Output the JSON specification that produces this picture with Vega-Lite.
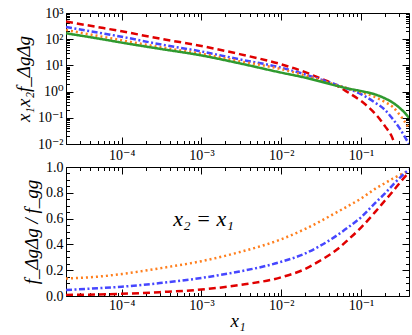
{
  "$schema": "https://vega.github.io/schema/vega-lite/v6.json",
  "padding": {"left": 13, "top": 5, "right": 5, "bottom": 2},
  "spacing": 23,
  "bounds": "flush",
  "datasets": {
    "top": [
      {"s": "red", "x": 0.00002, "y": 470}, {"s": "red", "x": 0.00005, "y": 290}, {"s": "red", "x": 0.0001, "y": 200}, {"s": "red", "x": 0.0003, "y": 105}, {"s": "red", "x": 0.001, "y": 55}, {"s": "red", "x": 0.003, "y": 27}, {"s": "red", "x": 0.01, "y": 11}, {"s": "red", "x": 0.02, "y": 5.5}, {"s": "red", "x": 0.03, "y": 3.3}, {"s": "red", "x": 0.05, "y": 1.7}, {"s": "red", "x": 0.07, "y": 0.9}, {"s": "red", "x": 0.1, "y": 0.44}, {"s": "red", "x": 0.15, "y": 0.145}, {"s": "red", "x": 0.2, "y": 0.048}, {"s": "red", "x": 0.25, "y": 0.016}, {"s": "red", "x": 0.265, "y": 0.01},
      {"s": "blue", "x": 0.00002, "y": 293}, {"s": "blue", "x": 0.00005, "y": 180}, {"s": "blue", "x": 0.0001, "y": 124}, {"s": "blue", "x": 0.0003, "y": 64}, {"s": "blue", "x": 0.001, "y": 34}, {"s": "blue", "x": 0.003, "y": 17}, {"s": "blue", "x": 0.01, "y": 8.2}, {"s": "blue", "x": 0.02, "y": 4.5}, {"s": "blue", "x": 0.03, "y": 3.0}, {"s": "blue", "x": 0.05, "y": 1.8}, {"s": "blue", "x": 0.07, "y": 1.25}, {"s": "blue", "x": 0.1, "y": 0.8}, {"s": "blue", "x": 0.15, "y": 0.38}, {"s": "blue", "x": 0.2, "y": 0.2}, {"s": "blue", "x": 0.25, "y": 0.09}, {"s": "blue", "x": 0.3, "y": 0.043}, {"s": "blue", "x": 0.35, "y": 0.02}, {"s": "blue", "x": 0.4, "y": 0.01},
      {"s": "orange", "x": 0.00002, "y": 224}, {"s": "orange", "x": 0.00005, "y": 134}, {"s": "orange", "x": 0.0001, "y": 91}, {"s": "orange", "x": 0.0003, "y": 50}, {"s": "orange", "x": 0.001, "y": 28}, {"s": "orange", "x": 0.003, "y": 14.5}, {"s": "orange", "x": 0.01, "y": 7.2}, {"s": "orange", "x": 0.02, "y": 4.1}, {"s": "orange", "x": 0.03, "y": 2.8}, {"s": "orange", "x": 0.05, "y": 1.75}, {"s": "orange", "x": 0.07, "y": 1.3}, {"s": "orange", "x": 0.1, "y": 0.95}, {"s": "orange", "x": 0.15, "y": 0.62}, {"s": "orange", "x": 0.2, "y": 0.4}, {"s": "orange", "x": 0.25, "y": 0.26}, {"s": "orange", "x": 0.3, "y": 0.14}, {"s": "orange", "x": 0.35, "y": 0.075}, {"s": "orange", "x": 0.4, "y": 0.038},
      {"s": "green", "x": 0.00002, "y": 168}, {"s": "green", "x": 0.00005, "y": 107}, {"s": "green", "x": 0.0001, "y": 74}, {"s": "green", "x": 0.0003, "y": 43}, {"s": "green", "x": 0.001, "y": 24}, {"s": "green", "x": 0.003, "y": 12}, {"s": "green", "x": 0.01, "y": 5.3}, {"s": "green", "x": 0.02, "y": 3.4}, {"s": "green", "x": 0.03, "y": 2.5}, {"s": "green", "x": 0.05, "y": 1.65}, {"s": "green", "x": 0.07, "y": 1.3}, {"s": "green", "x": 0.1, "y": 1.05}, {"s": "green", "x": 0.15, "y": 0.78}, {"s": "green", "x": 0.2, "y": 0.55}, {"s": "green", "x": 0.25, "y": 0.38}, {"s": "green", "x": 0.3, "y": 0.25}, {"s": "green", "x": 0.35, "y": 0.16}, {"s": "green", "x": 0.4, "y": 0.1}
    ],
    "bottom": [
      {"s": "orange", "x": 0.00002, "y": 0.135}, {"s": "orange", "x": 0.00005, "y": 0.15}, {"s": "orange", "x": 0.0001, "y": 0.17}, {"s": "orange", "x": 0.0003, "y": 0.215}, {"s": "orange", "x": 0.001, "y": 0.27}, {"s": "orange", "x": 0.003, "y": 0.34}, {"s": "orange", "x": 0.01, "y": 0.44}, {"s": "orange", "x": 0.02, "y": 0.52}, {"s": "orange", "x": 0.03, "y": 0.575}, {"s": "orange", "x": 0.05, "y": 0.65}, {"s": "orange", "x": 0.07, "y": 0.7}, {"s": "orange", "x": 0.1, "y": 0.755}, {"s": "orange", "x": 0.15, "y": 0.83}, {"s": "orange", "x": 0.2, "y": 0.875}, {"s": "orange", "x": 0.25, "y": 0.91}, {"s": "orange", "x": 0.3, "y": 0.935}, {"s": "orange", "x": 0.35, "y": 0.955}, {"s": "orange", "x": 0.4, "y": 0.97},
      {"s": "blue", "x": 0.00002, "y": 0.047}, {"s": "blue", "x": 0.00005, "y": 0.06}, {"s": "blue", "x": 0.0001, "y": 0.072}, {"s": "blue", "x": 0.0003, "y": 0.1}, {"s": "blue", "x": 0.001, "y": 0.14}, {"s": "blue", "x": 0.003, "y": 0.19}, {"s": "blue", "x": 0.01, "y": 0.265}, {"s": "blue", "x": 0.02, "y": 0.33}, {"s": "blue", "x": 0.03, "y": 0.385}, {"s": "blue", "x": 0.05, "y": 0.47}, {"s": "blue", "x": 0.07, "y": 0.535}, {"s": "blue", "x": 0.1, "y": 0.61}, {"s": "blue", "x": 0.15, "y": 0.72}, {"s": "blue", "x": 0.2, "y": 0.795}, {"s": "blue", "x": 0.25, "y": 0.86}, {"s": "blue", "x": 0.3, "y": 0.91}, {"s": "blue", "x": 0.35, "y": 0.95}, {"s": "blue", "x": 0.4, "y": 0.98},
      {"s": "red", "x": 0.00002, "y": 0.008}, {"s": "red", "x": 0.00005, "y": 0.012}, {"s": "red", "x": 0.0001, "y": 0.017}, {"s": "red", "x": 0.0003, "y": 0.03}, {"s": "red", "x": 0.001, "y": 0.05}, {"s": "red", "x": 0.003, "y": 0.085}, {"s": "red", "x": 0.01, "y": 0.145}, {"s": "red", "x": 0.02, "y": 0.21}, {"s": "red", "x": 0.03, "y": 0.27}, {"s": "red", "x": 0.05, "y": 0.36}, {"s": "red", "x": 0.07, "y": 0.44}, {"s": "red", "x": 0.1, "y": 0.53}, {"s": "red", "x": 0.15, "y": 0.65}, {"s": "red", "x": 0.2, "y": 0.74}, {"s": "red", "x": 0.25, "y": 0.81}, {"s": "red", "x": 0.3, "y": 0.87}, {"s": "red", "x": 0.35, "y": 0.92}, {"s": "red", "x": 0.4, "y": 0.96}
    ],
    "note": [{"x": 0.00106, "y": 0.6, "label": "x₂ = x₁"}]
  },
  "vconcat": [
    {
      "width": 343,
      "height": 131,
      "data": {"name": "top"},
      "layer": [
        {
          "mark": {"type": "line", "strokeWidth": 2.5, "interpolate": "monotone", "clip": true},
          "encoding": {
            "x": {"field": "x", "type": "quantitative", "scale": {"type": "log", "domain": [0.00002, 0.4]},
              "axis": {"orient": "bottom", "values": [0.0001, 0.001, 0.01, 0.1], "tickSize": -7, "labelPadding": 11, "title": null,
                "labelExpr": "'10' + (round(log(datum.value)/LN10) < 0 ? '⁻' : '') + substring('⁰¹²³⁴⁵⁶⁷⁸⁹', abs(round(log(datum.value)/LN10)), abs(round(log(datum.value)/LN10)) + 1)"}},
            "y": {"field": "y", "type": "quantitative", "scale": {"type": "log", "domain": [0.01, 1000]},
              "axis": {"orient": "left", "values": [0.01, 0.1, 1, 10, 100, 1000], "tickSize": -7, "labelPadding": 10, "title": "x₁x₂f_ΔgΔg",
                "labelExpr": "'10' + (round(log(datum.value)/LN10) < 0 ? '⁻' : '') + substring('⁰¹²³⁴⁵⁶⁷⁸⁹', abs(round(log(datum.value)/LN10)), abs(round(log(datum.value)/LN10)) + 1)"}},
            "color": {"field": "s", "type": "nominal", "legend": null, "scale": {"domain": ["red", "blue", "orange", "green"], "range": ["#e00000", "#4646ff", "#ff7f1e", "#2f9a2f"]}},
            "strokeDash": {"field": "s", "type": "nominal", "legend": null, "scale": {"domain": ["red", "blue", "orange", "green"], "range": [[7, 4], [6, 2.5, 2, 2.5], [2, 3], [1, 0]]}}
          }
        },
        {
          "mark": {"type": "line", "strokeOpacity": 0},
          "encoding": {
            "x": {"field": "x", "type": "quantitative", "scale": {"type": "log", "domain": [0.00002, 0.4]},
              "axis": {"orient": "top", "values": [0.0001, 0.001, 0.01, 0.1], "tickSize": -7, "labels": false, "title": null}},
            "y": {"field": "y", "type": "quantitative", "scale": {"type": "log", "domain": [0.01, 1000]},
              "axis": {"orient": "right", "values": [0.01, 0.1, 1, 10, 100, 1000], "tickSize": -7, "labels": false, "title": null}},
            "detail": {"field": "s"}
          }
        },
        {
          "mark": {"type": "line", "strokeOpacity": 0},
          "encoding": {
            "x": {"field": "x", "type": "quantitative", "scale": {"type": "log", "domain": [0.00002, 0.4]},
              "axis": {"orient": "bottom", "values": [0.00002, 0.00003, 0.00004, 0.00005, 0.00006, 0.00007, 0.00008, 0.00009, 0.0002, 0.0003, 0.0004, 0.0005, 0.0006, 0.0007, 0.0008, 0.0009, 0.002, 0.003, 0.004, 0.005, 0.006, 0.007, 0.008, 0.009, 0.02, 0.03, 0.04, 0.05, 0.06, 0.07, 0.08, 0.09, 0.2, 0.3], "tickSize": -3.5, "labels": false, "title": null}},
            "y": {"field": "y", "type": "quantitative", "scale": {"type": "log", "domain": [0.01, 1000]},
              "axis": {"orient": "left", "values": [0.02, 0.03, 0.04, 0.05, 0.06, 0.07, 0.08, 0.09, 0.2, 0.3, 0.4, 0.5, 0.6, 0.7, 0.8, 0.9, 2, 3, 4, 5, 6, 7, 8, 9, 20, 30, 40, 50, 60, 70, 80, 90, 200, 300, 400, 500, 600, 700, 800, 900], "tickSize": -3.5, "labels": false, "title": null}},
            "detail": {"field": "s"}
          }
        },
        {
          "mark": {"type": "line", "strokeOpacity": 0},
          "encoding": {
            "x": {"field": "x", "type": "quantitative", "scale": {"type": "log", "domain": [0.00002, 0.4]},
              "axis": {"orient": "top", "values": [0.00002, 0.00003, 0.00004, 0.00005, 0.00006, 0.00007, 0.00008, 0.00009, 0.0002, 0.0003, 0.0004, 0.0005, 0.0006, 0.0007, 0.0008, 0.0009, 0.002, 0.003, 0.004, 0.005, 0.006, 0.007, 0.008, 0.009, 0.02, 0.03, 0.04, 0.05, 0.06, 0.07, 0.08, 0.09, 0.2, 0.3], "tickSize": -3.5, "labels": false, "title": null}},
            "y": {"field": "y", "type": "quantitative", "scale": {"type": "log", "domain": [0.01, 1000]},
              "axis": {"orient": "right", "values": [0.02, 0.03, 0.04, 0.05, 0.06, 0.07, 0.08, 0.09, 0.2, 0.3, 0.4, 0.5, 0.6, 0.7, 0.8, 0.9, 2, 3, 4, 5, 6, 7, 8, 9, 20, 30, 40, 50, 60, 70, 80, 90, 200, 300, 400, 500, 600, 700, 800, 900], "tickSize": -3.5, "labels": false, "title": null}},
            "detail": {"field": "s"}
          }
        }
      ],
      "resolve": {"axis": {"x": "independent", "y": "independent"}}
    },
    {
      "width": 343,
      "height": 129,
      "layer": [
        {
          "data": {"name": "bottom"},
          "mark": {"type": "line", "strokeWidth": 2.5, "interpolate": "monotone", "clip": true},
          "encoding": {
            "x": {"field": "x", "type": "quantitative", "scale": {"type": "log", "domain": [0.00002, 0.4]},
              "axis": {"orient": "bottom", "values": [0.0001, 0.001, 0.01, 0.1], "tickSize": -7, "labelPadding": 9, "titlePadding": -1, "title": "x₁",
                "labelExpr": "'10' + (round(log(datum.value)/LN10) < 0 ? '⁻' : '') + substring('⁰¹²³⁴⁵⁶⁷⁸⁹', abs(round(log(datum.value)/LN10)), abs(round(log(datum.value)/LN10)) + 1)"}},
            "y": {"field": "y", "type": "quantitative", "scale": {"domain": [0, 1]},
              "axis": {"orient": "left", "values": [0, 0.2, 0.4, 0.6, 0.8, 1], "format": ".1f", "tickSize": -7, "labelPadding": 10, "title": "f_ΔgΔg / f_gg"}},
            "color": {"field": "s", "type": "nominal", "legend": null, "scale": {"domain": ["red", "blue", "orange", "green"], "range": ["#e00000", "#4646ff", "#ff7f1e", "#2f9a2f"]}},
            "strokeDash": {"field": "s", "type": "nominal", "legend": null, "scale": {"domain": ["red", "blue", "orange", "green"], "range": [[7, 4], [6, 2.5, 2, 2.5], [2, 3], [1, 0]]}}
          }
        },
        {
          "data": {"name": "bottom"},
          "mark": {"type": "line", "strokeOpacity": 0},
          "encoding": {
            "x": {"field": "x", "type": "quantitative", "scale": {"type": "log", "domain": [0.00002, 0.4]},
              "axis": {"orient": "top", "values": [0.0001, 0.001, 0.01, 0.1], "tickSize": -7, "labels": false, "title": null}},
            "y": {"field": "y", "type": "quantitative", "scale": {"domain": [0, 1]},
              "axis": {"orient": "right", "values": [0, 0.2, 0.4, 0.6, 0.8, 1], "tickSize": -7, "labels": false, "title": null}},
            "detail": {"field": "s"}
          }
        },
        {
          "data": {"name": "bottom"},
          "mark": {"type": "line", "strokeOpacity": 0},
          "encoding": {
            "x": {"field": "x", "type": "quantitative", "scale": {"type": "log", "domain": [0.00002, 0.4]},
              "axis": {"orient": "bottom", "values": [0.00002, 0.00003, 0.00004, 0.00005, 0.00006, 0.00007, 0.00008, 0.00009, 0.0002, 0.0003, 0.0004, 0.0005, 0.0006, 0.0007, 0.0008, 0.0009, 0.002, 0.003, 0.004, 0.005, 0.006, 0.007, 0.008, 0.009, 0.02, 0.03, 0.04, 0.05, 0.06, 0.07, 0.08, 0.09, 0.2, 0.3], "tickSize": -3.5, "labels": false, "title": null}},
            "y": {"field": "y", "type": "quantitative", "scale": {"domain": [0, 1]},
              "axis": {"orient": "left", "values": [0.05, 0.1, 0.15, 0.25, 0.3, 0.35, 0.45, 0.5, 0.55, 0.65, 0.7, 0.75, 0.85, 0.9, 0.95], "tickSize": -3.5, "labels": false, "title": null}},
            "detail": {"field": "s"}
          }
        },
        {
          "data": {"name": "bottom"},
          "mark": {"type": "line", "strokeOpacity": 0},
          "encoding": {
            "x": {"field": "x", "type": "quantitative", "scale": {"type": "log", "domain": [0.00002, 0.4]},
              "axis": {"orient": "top", "values": [0.00002, 0.00003, 0.00004, 0.00005, 0.00006, 0.00007, 0.00008, 0.00009, 0.0002, 0.0003, 0.0004, 0.0005, 0.0006, 0.0007, 0.0008, 0.0009, 0.002, 0.003, 0.004, 0.005, 0.006, 0.007, 0.008, 0.009, 0.02, 0.03, 0.04, 0.05, 0.06, 0.07, 0.08, 0.09, 0.2, 0.3], "tickSize": -3.5, "labels": false, "title": null}},
            "y": {"field": "y", "type": "quantitative", "scale": {"domain": [0, 1]},
              "axis": {"orient": "right", "values": [0.05, 0.1, 0.15, 0.25, 0.3, 0.35, 0.45, 0.5, 0.55, 0.65, 0.7, 0.75, 0.85, 0.9, 0.95], "tickSize": -3.5, "labels": false, "title": null}},
            "detail": {"field": "s"}
          }
        },
        {
          "data": {"name": "note"},
          "mark": {"type": "text", "font": "Liberation Serif, DejaVu Serif, serif", "fontStyle": "italic", "fontSize": 22, "color": "#000"},
          "encoding": {
            "x": {"field": "x", "type": "quantitative", "scale": {"type": "log", "domain": [0.00002, 0.4]}, "axis": null},
            "y": {"field": "y", "type": "quantitative", "scale": {"domain": [0, 1]}, "axis": null},
            "text": {"field": "label"}
          }
        }
      ],
      "resolve": {"axis": {"x": "independent", "y": "independent"}}
    }
  ],
  "config": {
    "view": {"stroke": "#000", "strokeWidth": 1},
    "axis": {
      "domain": false, "grid": false, "ticks": true, "tickColor": "#000", "tickWidth": 1,
      "labelFont": "Liberation Serif, DejaVu Serif, serif", "labelFontSize": 14, "labelColor": "#000",
      "titleFont": "Liberation Serif, DejaVu Serif, serif", "titleFontSize": 19, "titleFontStyle": "italic", "titleFontWeight": "normal", "titleColor": "#000"
    }
  }
}
